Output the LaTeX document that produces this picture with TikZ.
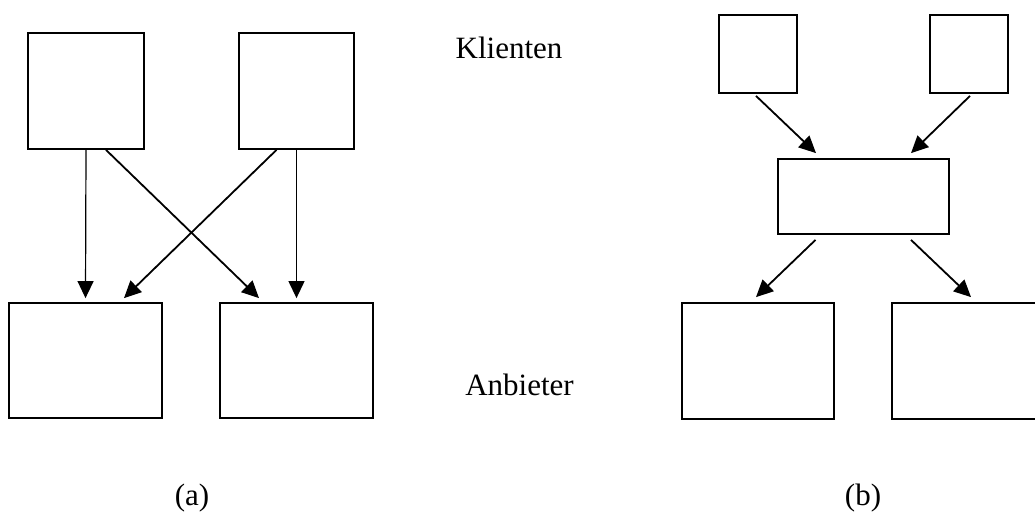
\documentclass[tikz,border=0pt]{standalone}
\usepackage{fontspec}
\setmainfont{Liberation Serif}
\usetikzlibrary{arrows.meta}

\tikzset{
  box/.style={draw, line width=1.8pt, inner sep=0pt, fill=none},
  link/.style={line width=1.8pt, -{Triangle[length=17pt,width=16pt]}},
  thinlink/.style={line width=1.2pt, -{Triangle[length=17pt,width=16pt]}},
  caption/.style={anchor=base, inner sep=0pt, font=\fontsize{31}{37}\selectfont},
}

\begin{document}
\begin{tikzpicture}[x=1pt, y=-1pt]
  \useasboundingbox (0,0) rectangle (1035,514);
  \clip (0,0) rectangle (1035,514);

  % (a) direct connections: every client to every provider
  \node[box, minimum width=116pt, minimum height=116pt] (c1) at (86,91) {};
  \node[box, minimum width=115pt, minimum height=116pt] (c2) at (296.5,91) {};
  \node[box, minimum width=153pt, minimum height=115pt] (a1) at (85.5,360.5) {};
  \node[box, minimum width=153pt, minimum height=115pt] (a2) at (296.5,360.5) {};

  \draw[thinlink] (c1.south) -- ([yshift=4pt]a1.north);
  \draw[thinlink] (c2.south) -- ([yshift=4pt]a2.north);
  \draw[link] ([xshift=20pt]c1.south) -- ([xshift=-37.5pt,yshift=4pt]a2.north);
  \draw[link] ([xshift=-20pt]c2.south) -- ([xshift=38.5pt,yshift=4pt]a1.north);

  % (b) connections through an intermediary
  \node[box, minimum width=78pt, minimum height=78pt] (k1) at (758,54) {};
  \node[box, minimum width=78pt, minimum height=78pt] (k2) at (969,54) {};
  \node[box, minimum width=171pt, minimum height=75pt] (m) at (863.5,196.5) {};
  \node[box, minimum width=152pt, minimum height=116pt] (b1) at (758,361) {};
  \node[box, minimum width=152pt, minimum height=116pt] (b2) at (968,361) {};

  \draw[link] ([xshift=-2pt,yshift=-2pt]k1.south) -- ([xshift=-47.5pt,yshift=5pt]m.north);
  \draw[link] ([xshift=1pt,yshift=-2pt]k2.south) -- ([xshift=47.5pt,yshift=5pt]m.north);
  \draw[link] ([xshift=-48pt,yshift=-5pt]m.south) -- ([xshift=-2pt,yshift=5pt]b1.north);
  \draw[link] ([xshift=47.5pt,yshift=-5pt]m.south) -- ([xshift=3pt,yshift=5pt]b2.north);

  % labels
  \node[caption] (kl) at (509,58) {Klienten};
  \node[caption] (an) at (519.5,395) {Anbieter};
  \node[caption] (la) at (192,505) {(a)};
  \node[caption] (lb) at (863,505) {(b)};
\end{tikzpicture}
\end{document}
